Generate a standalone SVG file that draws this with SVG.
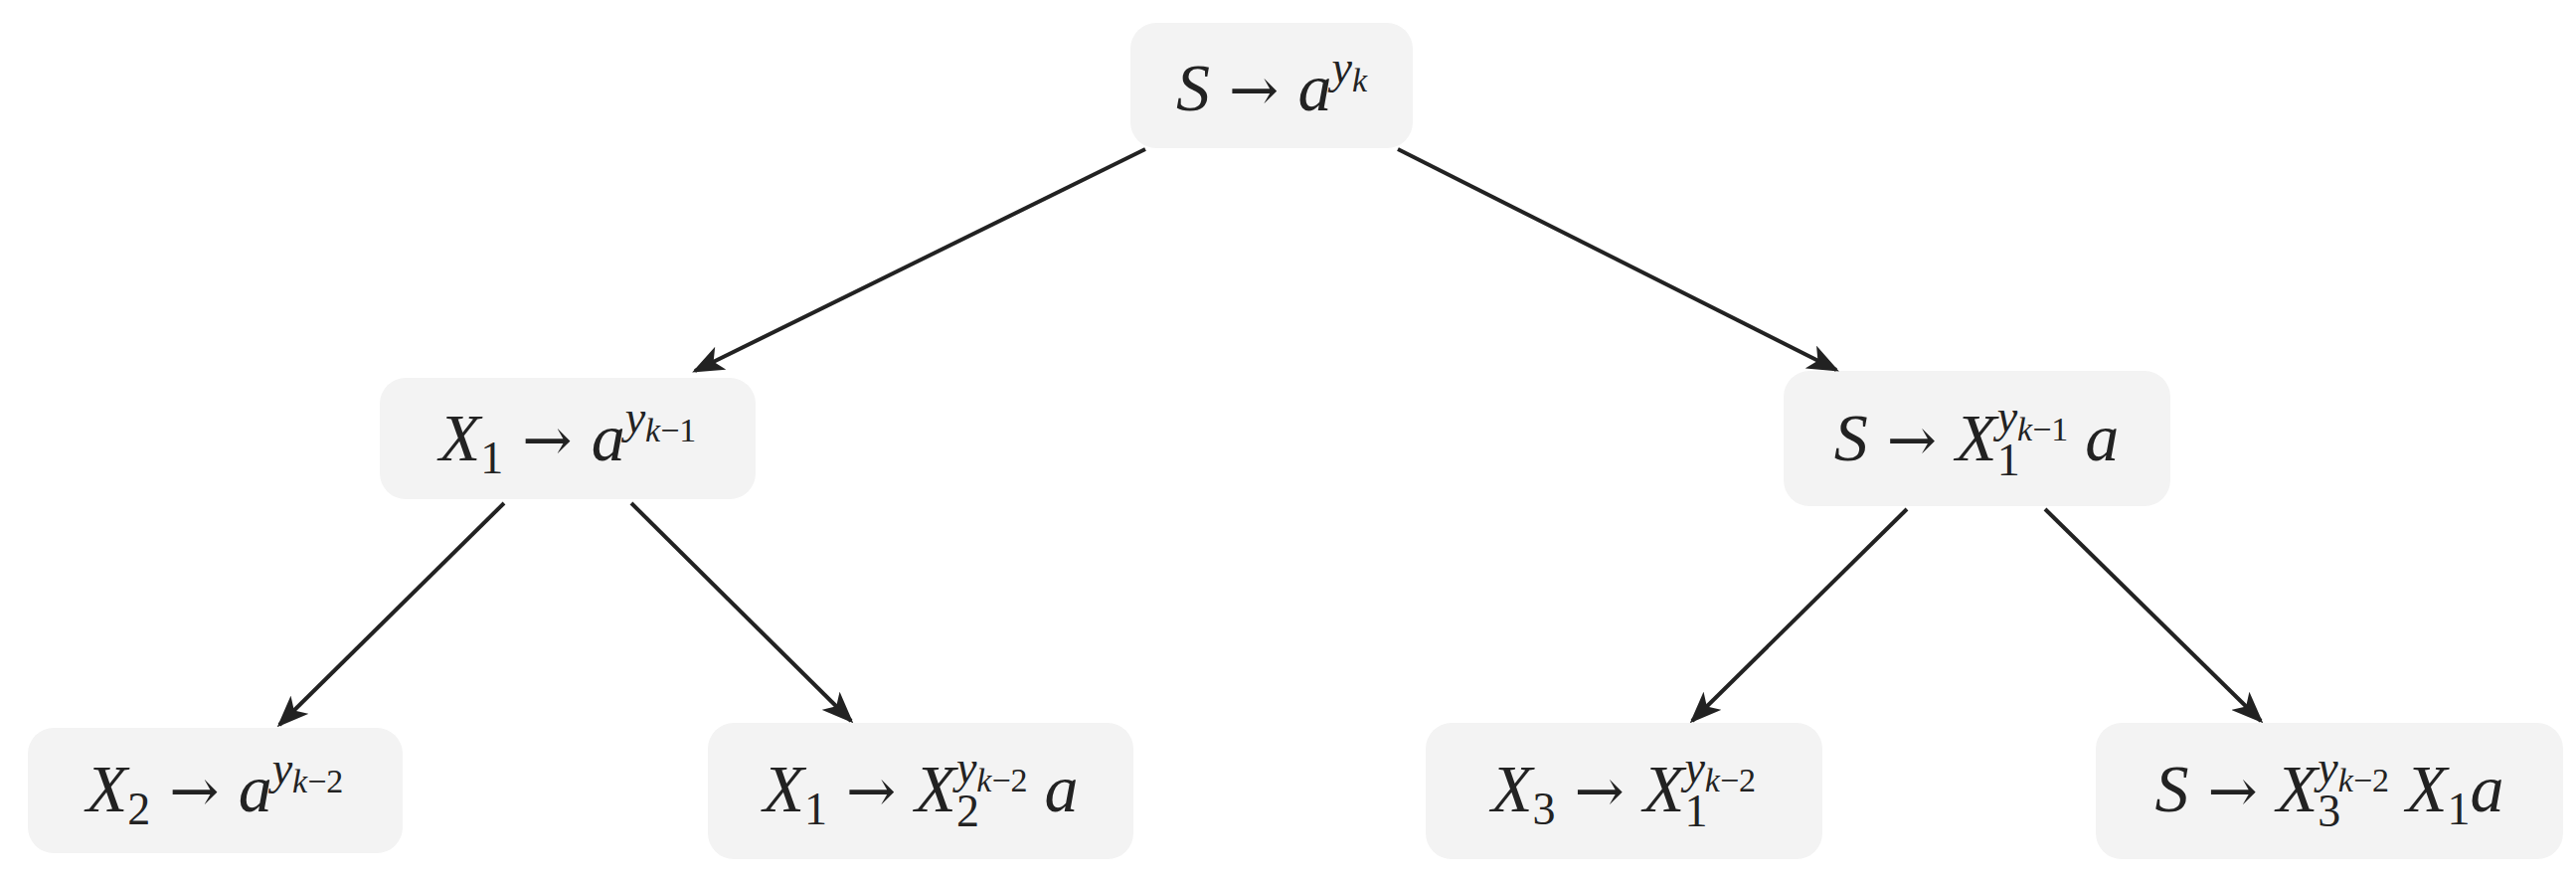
<svg xmlns="http://www.w3.org/2000/svg" width="2591" height="884" viewBox="0 0 2591 884">
<style>
.n{fill:#f3f3f3}
text{font-family:"Liberation Serif","DejaVu Serif",serif;font-size:68px;fill:#222;text-anchor:middle}
.i{font-style:italic}
.a{font-family:"DejaVu Serif",serif;font-size:60px}
.s{font-size:46px}
.ss{font-size:34px}
.e line{stroke:#222;stroke-width:4;marker-end:url(#ah)}
</style>
<defs><marker id="ah" viewBox="0 0 20 16" refX="18" refY="8" markerWidth="8" markerHeight="6.4" markerUnits="strokeWidth" orient="auto"><path d="M0,0 L20,8 L0,16 L5,8 Z" fill="#222"/></marker></defs>
<g id="n0"><rect class="n" x="1137" y="23" width="284" height="126" rx="26"/>
<text x="1279" y="111"><tspan class="i">S</tspan><tspan class="a"> → </tspan><tspan class="i">a</tspan><tspan class="i s" dy="-28">y</tspan><tspan class="i ss" dy="9">k</tspan></text></g>
<g id="n1"><rect class="n" x="382" y="380" width="378" height="122" rx="26"/>
<text x="571" y="463"><tspan class="i">X</tspan><tspan class="s" dy="13">1</tspan><tspan class="a" dy="-13"> → </tspan><tspan class="i">a</tspan><tspan class="i s" dy="-28">y</tspan><tspan class="ss" dy="9"><tspan class="i">k</tspan>−1</tspan></text></g>
<g id="n2"><rect class="n" x="1794" y="373" width="389" height="136" rx="26"/>
<text x="1988" y="463"><tspan class="i">S</tspan><tspan class="a"> → </tspan><tspan class="i">X</tspan><tspan class="s" dy="15">1</tspan><tspan class="i s" dx="-23" dy="-44">y</tspan><tspan class="ss" dy="9"><tspan class="i">k</tspan>−1</tspan><tspan class="i" dy="20"> a</tspan></text></g>
<g id="n3"><rect class="n" x="28" y="732" width="377" height="126" rx="26"/>
<text x="216" y="816"><tspan class="i">X</tspan><tspan class="s" dy="13">2</tspan><tspan class="a" dy="-13"> → </tspan><tspan class="i">a</tspan><tspan class="i s" dy="-28">y</tspan><tspan class="ss" dy="9"><tspan class="i">k</tspan>−2</tspan></text></g>
<g id="n4"><rect class="n" x="712" y="727" width="428" height="137" rx="26"/>
<text x="926" y="816"><tspan class="i">X</tspan><tspan class="s" dy="13">1</tspan><tspan class="a" dy="-13"> → </tspan><tspan class="i">X</tspan><tspan class="s" dy="15">2</tspan><tspan class="i s" dx="-23" dy="-44">y</tspan><tspan class="ss" dy="9"><tspan class="i">k</tspan>−2</tspan><tspan class="i" dy="20"> a</tspan></text></g>
<g id="n5"><rect class="n" x="1434" y="727" width="399" height="137" rx="26"/>
<text x="1633" y="816"><tspan class="i">X</tspan><tspan class="s" dy="13">3</tspan><tspan class="a" dy="-13"> → </tspan><tspan class="i">X</tspan><tspan class="s" dy="15">1</tspan><tspan class="i s" dx="-23" dy="-44">y</tspan><tspan class="ss" dy="9"><tspan class="i">k</tspan>−2</tspan></text></g>
<g id="n6"><rect class="n" x="2108" y="727" width="470" height="137" rx="26"/>
<text x="2343" y="816"><tspan class="i">S</tspan><tspan class="a"> → </tspan><tspan class="i">X</tspan><tspan class="s" dy="15">3</tspan><tspan class="i s" dx="-23" dy="-44">y</tspan><tspan class="ss" dy="9"><tspan class="i">k</tspan>−2</tspan><tspan class="i" dy="20"> X</tspan><tspan class="s" dy="13">1</tspan><tspan class="i" dy="-13">a</tspan></text></g>
<g id="edges" class="e">
<line x1="1152" y1="150" x2="699" y2="373"/>
<line x1="1406" y1="150" x2="1847" y2="372"/>
<line x1="507" y1="506" x2="281" y2="729"/>
<line x1="635" y1="506" x2="856" y2="725"/>
<line x1="1918" y1="512" x2="1702" y2="725"/>
<line x1="2057" y1="512" x2="2274" y2="725"/>
</g>
</svg>
